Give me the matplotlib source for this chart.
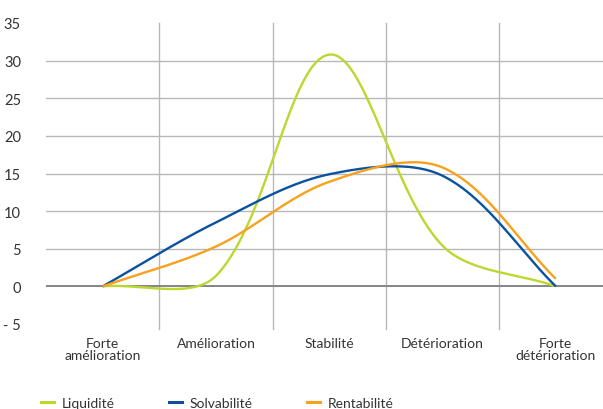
import numpy as np
import matplotlib
matplotlib.use('Agg')
import matplotlib.pyplot as plt
from matplotlib.lines import Line2D

plt.rcParams['font.family'] = ['Lato', 'DejaVu Sans']

categories = ['Forte\namélioration', 'Amélioration', 'Stabilité', 'Détérioration', 'Forte\ndétérioration']
liquidite = [0, 1.4, 30.8, 5.4, 0]
solvabilite = [0, 8.5, 14.9, 14.7, 0]
rentabilite = [0, 5.3, 13.9, 15.8, 1.0]

series = [('Liquidité', liquidite, '#bed630'),
          ('Solvabilité', solvabilite, '#0a52a0'),
          ('Rentabilité', rentabilite, '#f7a11e')]

# rough pixel size of one x step / one y unit, used for the smoothing weights
SX, SY = 113.3, 7.55


def smooth(xs, ys, n=60):
    # excel-like smoothed line: bezier segments, control points weighted by chord length
    p = np.column_stack([np.asarray(xs) * SX, np.asarray(ys) * SY]).astype(float)
    m = len(p)
    d = np.hypot(*np.diff(p, axis=0).T)
    cin = p.copy()
    cout = p.copy()
    for i in range(m):
        if i == 0:
            cout[i] = p[i] + (p[1] - p[0]) / 3
        elif i == m - 1:
            cin[i] = p[i] - (p[i] - p[i - 1]) / 3
        else:
            tan = p[i + 1] - p[i - 1]
            tot = d[i - 1] + d[i]
            cin[i] = p[i] - tan * d[i - 1] / tot / 3
            cout[i] = p[i] + tan * d[i] / tot / 3
    pts = []
    t = np.linspace(0, 1, n)[:, None]
    for i in range(m - 1):
        seg = ((1 - t) ** 3 * p[i] + 3 * (1 - t) ** 2 * t * cout[i]
               + 3 * (1 - t) * t ** 2 * cin[i + 1] + t ** 3 * p[i + 1])
        pts.append(seg if i == 0 else seg[1:])
    pts = np.vstack(pts)
    return pts[:, 0] / SX, pts[:, 1] / SY


fig = plt.figure(figsize=(6.03, 4.10), dpi=100)
ax = fig.add_axes([46 / 603, 1 - 325 / 410, 566.5 / 603, 301 / 410])

x = np.arange(len(categories))
ax.set_xlim(-0.5, len(categories) - 0.5)
ax.set_ylim(-5, 35)

for y in range(5, 31, 5):
    ax.axhline(y, color='#b8b8b8', lw=1.0, zorder=1)
for b in x[:-1] + 0.5:
    ax.plot([b, b], [-5.6, 35], color='#b8b8b8', lw=1.0, zorder=1, clip_on=False)
ax.axhline(0, color='#858585', lw=1.4, zorder=2)

handles = []
for name, vals, col in series:
    sx, sy = smooth(x, vals)
    ax.plot(sx, sy, color=col, lw=1.7, zorder=3, solid_capstyle='butt')
    handles.append(Line2D([], [], color=col, lw=2.2))

for s in ax.spines.values():
    s.set_visible(False)
ax.set_yticks(range(-5, 36, 5))
ax.set_yticklabels(['- 5' if v < 0 else str(v) for v in range(-5, 36, 5)])
ax.tick_params(axis='y', length=0, pad=18, labelsize=10.5, labelcolor='#333333')
ax.set_xticks(x)
ax.set_xticklabels(categories, linespacing=1.0)
ax.tick_params(axis='x', length=0, pad=9, labelsize=10, labelcolor='#333333')

fig.legend(handles, [s[0] for s in series], loc='lower left', bbox_to_anchor=(28 / 603, -0.03),
           ncol=3, frameon=False, fontsize=10, handlelength=1.0, handletextpad=0.5,
           columnspacing=3.9, labelcolor='#333333')

fig.savefig('out.png', dpi=100)
